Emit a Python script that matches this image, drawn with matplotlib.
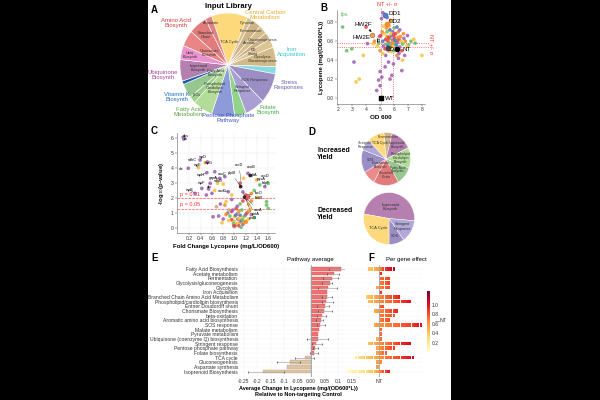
import matplotlib
matplotlib.use('Agg')
import matplotlib.pyplot as plt
import numpy as np
from matplotlib.patches import Rectangle
import matplotlib.colors as mcolors

plt.rcParams['font.family'] = ['Liberation Sans', 'DejaVu Sans']

# ---------------- data ----------------
# Panel A: input library (Voronoi-like pie), clockwise from top
lib_labels = ['TCA Cycle', 'Pyruvate', 'Fermentation', 'Acetate', 'Gluconeogenesis', 'ED\nShunt',
              'Glycolysis\nGluconeogenesis', '', 'SOS Response', 'Stringent\nResponse', '', '',
              'Phospholipid\nCardiolipin\nBiosynth', 'β-Ox', 'Fatty Acid\nBiosynth', '',
              'Isoprenoid\nBiosynth', 'Ubiq\nBiosynth', 'Chorismate\nBiosynth', 'Branched\nChain', 'Aspartate']
lib_sizes = [44, 6, 12, 10, 8, 10, 22, 8, 34, 24, 14, 28, 24, 8, 16, 4, 24, 16, 18, 22, 8]
lib_colors = ['#fdd97c', '#d9c08e', '#cfb488', '#d6bd8c', '#cbb184', '#dcc493', '#d4ba88', '#86dbe3',
              '#9a8ec4', '#a99fd2', '#93d48c', '#8d9cd8', '#b2dc98', '#9fcf8c', '#97c68e', '#1d5cae',
              '#b57fb0', '#ec93cf', '#ea8585', '#e27c7c', '#e48282']
group_names = ['Amino Acid\nBiosynth', 'Central Carbon\nMetabolism', 'Iron\nAcquisition', 'Stress\nResponses',
               'Folate\nBiosynth', 'Pentose Phosphate\nPathway', 'Fatty Acid\nMetabolism', 'Vitamin K\nBiosynth',
               'Ubiquinone\nBiosynth']
group_colors = ['#d43a3a', '#e6ad2e', '#35c3d3', '#6f5fb3', '#43ad43', '#4456c2', '#5aa247', '#1f6cc4', '#a3479a']

# Panel B: OD600 vs lycopene
b_od = [2.33, 2.62, 2.98, 3.14, 3.29, 3.52, 3.81, 4.10, 4.52, 4.00, 4.76, 5.00, 4.90, 5.12, 5.71, 5.84,
        5.00, 5.36, 5.60, 6.55, 5.95, 6.31, 7.98, 7.50, 7.02, 6.67, 4.95, 4.80, 4.60, 5.10, 5.20,
        5.40, 5.50, 5.60, 5.70, 5.80, 5.90, 6.00, 6.10, 6.20, 5.45, 5.55, 5.65, 5.75, 5.85, 5.95, 6.05,
        6.15, 6.25, 6.35, 6.45, 5.30, 5.50, 5.70, 5.90, 6.10, 6.30, 6.50, 6.60, 5.20, 5.25, 5.35, 5.60,
        5.80, 6.00, 6.20, 6.40, 6.55, 5.45, 5.65, 6.00, 6.20, 6.40, 5.05, 5.15, 5.25, 6.70, 6.80, 6.90,
        6.75, 6.60, 5.40, 5.20, 5.00, 4.90, 5.75, 5.50, 6.20, 6.35, 7.20, 6.95, 7.40, 5.62, 5.88, 6.08,
        5.52, 5.78, 6.28, 5.98, 5.68]
b_lyc = [0.75, 0.50, 0.52, 0.38, 0.17, 0.20, 0.45, 0.575, 0.575, 0.75, 0.08, 0.13, 0.19, 0.22, 0.20, 0.24,
         0.28, 0.33, 0.38, 0.29, 0.36, 0.42, 0.45, 0.58, 0.56, 0.68, 0.65, 0.55, 0.60, 0.84, 0.90,
         0.62, 0.65, 0.60, 0.63, 0.66, 0.61, 0.64, 0.60, 0.62, 0.57, 0.55, 0.58, 0.54, 0.57, 0.55, 0.58,
         0.56, 0.59, 0.62, 0.65, 0.68, 0.70, 0.72, 0.70, 0.68, 0.70, 0.60, 0.57, 0.60, 0.55, 0.52, 0.50,
         0.49, 0.50, 0.52, 0.54, 0.50, 0.74, 0.76, 0.74, 0.75, 0.72, 0.66, 0.70, 0.76, 0.63, 0.60, 0.55,
         0.45, 0.40, 0.45, 0.47, 0.50, 0.58, 0.82, 0.85, 0.45, 0.47, 0.60, 0.66, 0.62, 0.64, 0.59, 0.61,
         0.61, 0.68, 0.64, 0.67, 0.57]
b_cat = [3, 3, 3, 5, 2, 2, 2, 5, 2, 0, 5, 5, 5, 5, 5, 5,
         5, 5, 5, 5, 5, 5, 2, 3, 3, 1, 5, 2, 1, 5, 5,
         0, 1, 2, 3, 4, 5, 0, 1, 2, 3, 4, 5, 0, 1, 2, 3,
         4, 5, 0, 1, 2, 3, 4, 5, 0, 1, 2, 3, 4, 5, 0, 1,
         2, 3, 4, 5, 0, 1, 2, 3, 4, 5, 0, 1, 2, 5, 1, 2,
         5, 2, 5, 2, 1, 3, 1, 5, 1, 5, 3, 5, 2, 0, 1, 4,
         0, 2, 1, 0, 3]
nt_od = [5.07, 5.90]
nt_lyc = [0.54, 0.58]

# Panel C: volcano
c_fc = [0.09, 0.10, 0.39, 0.48, 0.52, 0.18, 0.36, 0.51, 0.65, 0.57, 0.30, 0.42, 0.54, 0.70, 0.74, 0.80,
        0.83, 0.89, 0.60, 0.65, 0.50, 0.95, 1.10, 1.11, 1.16, 1.24, 1.28, 1.39, 1.45, 1.54, 1.60, 1.57,
        1.60, 1.57, 1.20, 1.25, 1.30, 1.18, 1.35, 1.40, 1.22, 1.15, 1.30,
        1.00, 1.02, 1.05, 1.08, 1.10, 1.12, 1.06, 1.00, 0.98, 0.95, 1.15, 1.18, 1.20, 1.22, 1.25, 1.10,
        1.05, 1.00, 0.92, 0.88, 0.85, 0.90, 0.95, 1.13, 1.28, 1.30, 1.35, 1.15, 1.20, 1.25, 0.80, 0.83,
        0.68, 0.90, 0.72, 0.78, 1.03, 1.08, 0.97, 0.75, 0.85, 0.95, 1.10, 1.15, 1.25, 1.05, 1.12, 1.17,
        1.08, 1.02, 0.99, 1.14, 1.21, 1.07, 0.62]
c_p = [6.05, 5.93, 4.53, 4.36, 4.40, 3.98, 4.02, 3.69, 3.75, 2.98, 2.31, 2.64, 2.60, 2.98, 3.31, 2.93,
       3.42, 2.42, 2.31, 2.50, 2.20, 2.20, 2.98, 2.76, 3.31, 3.64, 3.50, 3.20, 2.87, 2.76, 2.98, 1.53,
       1.31, 1.75, 2.20, 2.10, 2.30, 2.05, 2.50, 2.05, 1.95, 2.40, 1.80,
       0.10, 0.20, 0.30, 0.15, 0.40, 0.50, 0.60, 0.45, 0.30, 0.55, 0.70, 0.80, 0.90, 1.00, 1.10, 0.85,
       0.95, 0.75, 0.80, 1.00, 0.90, 0.50, 1.10, 1.20, 1.25, 0.90, 0.70, 0.25, 0.45, 0.60, 0.60, 1.53,
       1.42, 1.20, 0.80, 0.35, 1.30, 1.15, 1.20, 1.60, 1.75, 1.90, 1.60, 1.80, 1.55, 1.45, 0.05, 0.35,
       0.65, 0.85, 0.15, 0.55, 0.40, 1.00, 0.75]
c_cat = [5, 5, 5, 2, 5, 5, 2, 5, 5, 5, 5, 5, 5, 2, 5, 2,
         5, 5, 5, 2, 5, 2, 0, 7, 2, 5, 7, 2, 3, 5, 3, 3,
         3, 3, 0, 0, 1, 7, 3, 2, 0, 5, 1,
         3, 5, 2, 0, 1, 4, 5, 2, 3, 0, 2, 3, 5, 0, 1, 4,
         5, 2, 3, 5, 1, 2, 0, 3, 2, 5, 3, 5, 1, 2, 5, 1,
         6, 6, 5, 2, 0, 1, 5, 5, 2, 5, 3, 0, 2, 5, 3, 1,
         2, 4, 0, 3, 1, 6, 5]

# Panel D: hits by pathway
inc_labels = ['Fermentation', 'Isoprenoid\nBiosynth', 'Phospholipid\nCardiolipin\nBiosynth', 'Fatty Acid\nBiosynth',
              'Branched\nChain', 'Chorismate\nBiosynth', 'SOS', 'Stringent\nResponse', 'TCA Cycle']
inc_counts = [4, 10, 9, 8, 12, 6, 10, 5, 8]
inc_colors = ['#cfb488', '#b57fb0', '#b2dc98', '#97c68e', '#e27c7c', '#ea8a8a', '#9a8ec4', '#b1a8d8', '#fdd97c']
dec_labels = ['Isoprenoid\nBiosynth', 'Stringent\nResponse', 'SOS', 'TCA Cycle']
dec_counts = [35, 10, 7, 20]
dec_colors = ['#b57fb0', '#b1a8d8', '#9a8ec4', '#fdd97c']

# Panel E: pathway averages
pathways = ['Fatty Acid Biosynthesis', 'Acetate metabolism', 'Fermentation', 'Glycolysis/gluconeogenesis',
            'Glycolysis', 'Iron Acquisition', 'Branched Chain Amino Acid Metabolism',
            'Phospholipid/cardiolipin biosynthesis', 'Entner Doudoroff shunt', 'Chorismate Biosynthesis',
            'beta-oxidation', 'Aromatic amino acid biosynthesis', 'SOS response', 'Malate metabolism',
            'Pyruvate metabolism', 'Ubiquinone (coenzyme Q) biosynthesis', 'Stringent response',
            'Pentose phosphate pathway', 'Folate biosynthesis', 'TCA cycle', 'Gluconeogenesis',
            'Aspartate synthesis', 'Isoprenoid Biosynthesis']
avg_change = [0.109, 0.085, 0.079, 0.070, 0.063, 0.060, 0.057, 0.055, 0.052, 0.048, 0.041, 0.037, 0.033,
              0.028, 0.026, 0.024, 0.018, 0.016, 0.012, -0.023, -0.078, -0.090, -0.178]
nan = np.nan
err_lo = [0.067, 0.057, 0.045, 0.039, 0.026, nan, 0.042, 0.040, 0.020, 0.026, 0.020, 0.018, 0.020,
          nan, nan, -0.016, 0.002, 0.005, -0.005, -0.060, -0.125, nan, -0.235]
err_hi = [0.168, 0.104, 0.100, 0.079, 0.094, nan, 0.079, 0.080, 0.067, 0.079, 0.054, 0.045, 0.050,
          nan, nan, 0.063, 0.040, 0.026, 0.026, 0.010, -0.040, nan, -0.100]
e_ticks = [-0.25, -0.2, -0.15, -0.1, -0.05, 0.0, 0.05, 0.1, 0.15]
e_ticklabels = ['-0.25', '-0.2', '-0.15', '-0.1', '-0.05', '0.00', '0.05', '0.1', '0.15']

# Panel F: per-gene effect (sorted per pathway)
gene_effects = [
    [0.42, 0.46, 0.50, 0.56, 0.70, 0.82, 0.90, 0.98, 1.05, 1.12],
    [0.92],
    [0.72, 0.76, 0.80, 0.85],
    [0.70, 0.74, 0.78, 0.84],
    [0.55, 0.68, 0.72, 0.76, 0.80],
    [0.88],
    [0.38, 0.44, 0.48, 0.52, 0.56, 0.68, 0.70, 0.74, 0.78, 0.82, 0.86, 0.90, 0.95],
    [0.45, 0.50, 0.54, 0.58, 0.66, 0.68, 0.70, 0.72, 0.75, 0.78, 0.80, 0.84, 0.88, 0.92, 0.96, 1.02],
    [0.78, 0.82],
    [0.50, 0.56, 0.68, 0.70, 0.74, 0.78, 0.82, 0.86, 0.92],
    [0.70, 0.72, 0.74, 0.76, 0.78, 0.80],
    [0.70, 0.74, 0.78, 0.80],
    [0.52, 0.58, 0.64, 0.66, 0.67, 0.68, 0.70, 0.72, 0.74, 0.76, 0.78, 0.80, 0.82, 0.85, 0.88, 0.92, 0.96, 1.00],
    [0.76],
    [0.75],
    [0.50, 0.72],
    [0.42, 0.48, 0.52, 0.58, 0.66, 0.68, 0.70, 0.74, 0.78, 0.80, 0.84, 0.88, 0.92, 0.96, 1.00, 1.05],
    [0.55, 0.66, 0.70, 0.74, 0.78, 0.82, 0.86],
    [0.56, 0.68, 0.72, 0.78],
    [0.20, 0.26, 0.32, 0.36, 0.40, 0.44, 0.48, 0.52, 0.58, 0.65, 0.67, 0.70, 0.72, 0.75, 0.78, 0.80, 0.84,
     0.88, 0.92, 0.96, 1.02, 1.08],
    [0.56, 0.66],
    [0.58],
    [0.05, 0.08, 0.12, 0.15, 0.18, 0.22, 0.26, 0.30, 0.36, 0.42, 0.48, 0.55, 0.70, 0.78, 0.86, 0.94],
]
nt_effect = 0.62
nt_marker = 0.67
cbar_ticks = [0.2, 0.4, 0.6, 0.8, 1.0]

# ---------------- layout helpers ----------------
W, H = 600, 400
fig = plt.figure(figsize=(6, 4), dpi=100, facecolor='black')


def rect(x0, y0, x1, y1):
    return [x0 / W, 1 - y1 / H, (x1 - x0) / W, (y1 - y0) / H]


def T(x, y, s, **kw):
    return fig.text(x / W, 1 - y / H, s, **kw)


def place_labels(wedges, texts, radii):
    for w, t, r in zip(wedges, texts, radii):
        th = np.deg2rad((w.theta1 + w.theta2) / 2)
        t.set_position((r * np.cos(th), r * np.sin(th)))


fig.add_artist(Rectangle((148 / W, 0), 303 / W, 1, transform=fig.transFigure,
                         facecolor='white', edgecolor='none', zorder=-10))

pal = ['#e8474c', '#f28e2b', '#f4c542', '#6cc06a', '#4b7bc4', '#a065b8', '#c9a97c', '#111111']
TICK = 3.6


def style_axes(ax):
    for s in ['top', 'right']:
        ax.spines[s].set_visible(False)
    for s in ['left', 'bottom']:
        ax.spines[s].set_linewidth(0.4)
        ax.spines[s].set_color('#666666')
    ax.tick_params(labelsize=TICK, length=1.5, width=0.3, pad=1, colors='#333333')


# ---------------- Panel A ----------------
T(151, 10, 'A', fontsize=7, fontweight='bold', va='center')
T(228, 6, 'Input Library', fontsize=5.5, fontweight='bold', ha='center', va='center')
axA = fig.add_axes(rect(179, 12, 277, 118))
wA, tA = axA.pie(lib_sizes, labels=lib_labels, colors=lib_colors, startangle=110, counterclock=False,
                 radius=1, wedgeprops=dict(edgecolor='white', linewidth=0.4),
                 textprops=dict(fontsize=2.8, color='#333333', ha='center', va='center', linespacing=0.95))
place_labels(wA, tA, [0.45, 0.9, 0.8, 0.62, 0.86, 0.58, 0.72, 0.6, 0.62, 0.55, 0.6, 0.6,
                      0.52, 0.86, 0.3, 0.6, 0.62, 0.82, 0.45, 0.75, 0.88])
axA.set_aspect('auto')
axA.set_xlim(-1.02, 1.02)
axA.set_ylim(-1.02, 1.02)
group_pos = [(176, 23), (265, 15), (292, 52), (289, 85), (268, 110), (228, 118), (189, 112), (177, 97), (163, 75)]
for name, col, (gx, gy) in zip(group_names, group_colors, group_pos):
    T(gx, gy, name, fontsize=4.3, color=col, ha='center', va='center', linespacing=1.0)

# ---------------- Panel B ----------------
T(320, 8, 'B', fontsize=7, fontweight='bold', va='center')
axB = fig.add_axes(rect(337, 10, 425, 104))
style_axes(axB)
axB.set_xlim(1.93, 8.2)
axB.set_ylim(-0.063, 0.93)
axB.set_xticks([2, 3, 4, 5, 6, 7, 8])
axB.set_yticks([0.0, 0.2, 0.4, 0.6, 0.8])
axB.set_yticklabels(['0.0', '0.2', '0.4', '0.6', '0.8'])
axB.scatter(b_od, b_lyc, c=[pal[i] for i in b_cat], s=7, linewidths=0, alpha=0.9, zorder=3)
for v in nt_od:
    axB.plot([v, v], [-0.063, 0.96], ls=':', color='#ff4444', lw=0.6, clip_on=False, zorder=2)
for v in nt_lyc:
    axB.plot([1.93, 8.45], [v, v], ls=':', color='#ff4444', lw=0.6, clip_on=False, zorder=2)
axB.text(5.48, 0.99, 'NT +/- σ', color='#ff3333', fontsize=4, ha='center', va='center')
axB.text(8.62, 0.57, 'NT +/- σ', color='#ff3333', fontsize=4, ha='center', va='center', rotation=270)
axB.scatter([5.38], [0.88], s=10, color='#4b7bc4', zorder=4)
axB.scatter([5.5], [0.78], s=10, color='#f28e2b', zorder=4)
axB.scatter([4.42], [0.67], s=11, facecolor='#f6a060', edgecolor='#a05a20', linewidths=0.4, zorder=4)
axB.scatter([5.07], [0.0], s=10, color='black', marker='s', zorder=4)
axB.scatter([6.2], [0.52], s=9, color='black', zorder=4)
axB.scatter([5.55], [0.53], s=9, color='#444444', zorder=4)
axB.text(5.58, 0.89, 'DD1', fontsize=4.5, va='center')
axB.text(5.62, 0.81, 'DD2', fontsize=4.5, va='center')
axB.text(5.4, 0.51, 'DD3', fontsize=4.5, va='center')
axB.text(5.36, -0.005, 'WT', fontsize=4.5, va='center')
axB.annotate('NT', xy=(6.22, 0.52), xytext=(6.62, 0.51), fontsize=4.5, va='center',
             arrowprops=dict(arrowstyle='-', lw=0.4, color='black'))
axB.annotate('HW2F', xy=(4.38, 0.70), xytext=(3.8, 0.78), fontsize=4.5, va='center', ha='center',
             arrowprops=dict(arrowstyle='-|>', lw=0.5, color='black', mutation_scale=3))
axB.text(3.7, 0.64, 'HW2E', fontsize=4.5, va='center', ha='center')
axB.text(4.93, 0.61, 'lp', fontsize=4, va='center', ha='center')
axB.text(2.45, 0.885, 'fps', fontsize=4, color='#5cb85c', va='center', ha='center')
axB.set_xlabel('OD 600', fontsize=4.5, fontweight='bold', labelpad=1.5)
axB.set_ylabel('Lycopene (mg/(OD600*L))', fontsize=4.3, fontweight='bold', labelpad=2)

# ---------------- Panel C ----------------
T(151, 131, 'C', fontsize=7, fontweight='bold', va='center')
axC = fig.add_axes(rect(177, 133, 275, 233))
style_axes(axC)
axC.set_xlim(-0.02, 1.72)
axC.set_ylim(-0.33, 6.33)
axC.set_xticks([0.2, 0.4, 0.6, 0.8, 1.0, 1.2, 1.4, 1.6])
axC.set_yticks([0, 1, 2, 3, 4, 5, 6])
axC.grid(True, color='#e6e6e6', lw=0.3)
axC.set_axisbelow(True)
axC.axhline(2.0, color='#ff5555', ls='--', lw=0.5, zorder=1)
axC.axhline(1.3, color='#ff5555', ls='--', lw=0.5, zorder=1)
axC.text(0.04, 2.1, 'p = 0.01', color='#ff3333', fontsize=4, va='bottom')
axC.text(0.04, 1.4, 'p = 0.05', color='#ff3333', fontsize=4, va='bottom')
axC.scatter(c_fc, c_p, c=[pal[i] for i in c_cat], s=7, linewidths=0, alpha=0.9, zorder=3)
c_lab = [('dxs', 0.09, 6.05, 0.13, 6.15), ('idi', 0.10, 5.93, 0.14, 5.9), ('sdhC', 0.36, 4.02, 0.25, 4.5),
         ('ispD', 0.39, 4.53, 0.43, 4.75), ('ispG', 0.52, 4.40, 0.55, 4.3), ('cls', 0.18, 3.98, 0.06, 3.9),
         ('ispE', 0.48, 4.36, 0.34, 4.2), ('ispH', 0.51, 3.69, 0.4, 3.5), ('ispF', 0.57, 2.98, 0.42, 3.0),
         ('ispB', 0.30, 2.31, 0.2, 2.55), ('dxr', 0.54, 2.60, 0.55, 2.75), ('sdhB', 0.70, 2.98, 0.72, 3.15),
         ('sucC', 0.83, 3.42, 0.78, 3.6), ('gapA', 0.74, 3.31, 0.62, 3.35), ('sucD', 0.89, 2.42, 0.78, 2.5),
         ('aroD', 1.12, 3.0, 1.08, 4.2), ('acnB', 1.24, 3.64, 1.3, 4.05), ('pfpB', 1.11, 2.76, 0.95, 3.65),
         ('gltA', 1.39, 3.2, 1.35, 3.55), ('pgsA', 1.45, 2.87, 1.48, 3.25), ('fabF', 1.54, 2.76, 1.56, 3.0),
         ('accD', 1.6, 2.98, 1.55, 3.45), ('lacO', 1.2, 2.2, 1.43, 2.35), ('fadR', 1.25, 2.1, 1.43, 2.0),
         ('sucA', 1.22, 1.95, 1.42, 1.2), ('pntA', 1.18, 2.05, 1.38, 0.95), ('ptsG', 1.15, 2.4, 1.33, 0.7)]
for name, px, py, tx, ty in c_lab:
    axC.annotate(name, xy=(px, py), xytext=(tx, ty), fontsize=2.8, ha='center', va='center',
                 arrowprops=dict(arrowstyle='-', lw=0.25, color='#222222', shrinkA=0.5, shrinkB=0.5))
axC.set_xlabel('Fold Change Lycopene (mg/L/OD600)', fontsize=4.3, fontweight='bold', labelpad=2)
axC.set_ylabel('-log$_{10}$(p-value)', fontsize=4.3, fontweight='bold', labelpad=3)

# ---------------- Panel D ----------------
T(308, 132, 'D', fontsize=7, fontweight='bold', va='center')
T(317, 154, 'Increased\nYield', fontsize=5, fontweight='bold', va='center', linespacing=1.1)
T(317, 214, 'Decreased\nYield', fontsize=5, fontweight='bold', va='center', linespacing=1.1)
axD1 = fig.add_axes(rect(361, 132, 411, 186))
wD1, tD1 = axD1.pie(inc_counts, labels=inc_labels, colors=inc_colors, startangle=95, counterclock=False,
                    wedgeprops=dict(edgecolor='white', linewidth=0.3),
                    textprops=dict(fontsize=2.5, color='#333333', ha='center', va='center', linespacing=0.95))
place_labels(wD1, tD1, [0.85, 0.7, 0.6, 0.62, 0.6, 0.32, 0.62, 1.0, 0.5])
tD1[8].set_position((-0.22, 0.6))
axD1.set_aspect('auto'); axD1.set_xlim(-1.02, 1.02); axD1.set_ylim(-1.02, 1.02)
axD2 = fig.add_axes(rect(363, 192, 415, 245))
wD2, tD2 = axD2.pie(dec_counts, labels=dec_labels, colors=dec_colors, startangle=170, counterclock=False,
                    wedgeprops=dict(edgecolor='white', linewidth=0.3),
                    textprops=dict(fontsize=2.8, color='#333333', ha='center', va='center'))
place_labels(wD2, tD2, [0.45, 0.6, 0.72, 0.55])
axD2.set_aspect('auto'); axD2.set_xlim(-1.02, 1.02); axD2.set_ylim(-1.02, 1.02)

# ---------------- Panel E ----------------
T(151, 258, 'E', fontsize=7, fontweight='bold', va='center')
T(310, 259, 'Pathway average', fontsize=4.3, ha='center', va='center')
axE = fig.add_axes(rect(240, 265, 357, 377))
ypos = np.arange(len(pathways))
axE.set_xlim(-0.264, 0.17)
axE.set_ylim(23.18, -0.86)
axE.grid(True, color='#dddddd', lw=0.3, ls=':')
axE.set_axisbelow(True)
bar_cols = ['#ef7272' if v >= 0 else '#dcc3a1' for v in avg_change]
edge_cols = ['#cc5555' if v >= 0 else '#b8997a' for v in avg_change]
axE.barh(ypos, avg_change, height=0.78, color=bar_cols, edgecolor=edge_cols, linewidth=0.25, zorder=2)
for y_, lo, hi in zip(ypos, err_lo, err_hi):
    if np.isnan(lo):
        continue
    axE.plot([lo, hi], [y_, y_], color='#aaaaaa', lw=0.5, zorder=3)
    axE.plot([lo, hi], [y_, y_], ls='none', marker='|', ms=1.6, mew=0.4, color='#222222', zorder=3)
axE.axvline(0, color='#8fa3b3', lw=0.6, zorder=4)
axE.set_yticks(ypos)
axE.set_yticklabels(pathways)
axE.set_xticks(e_ticks)
axE.set_xticklabels(e_ticklabels)
for s in axE.spines.values():
    s.set_visible(False)
axE.tick_params(axis='y', labelsize=3.6, length=0, pad=1.5, colors='#333333')
axE.tick_params(axis='x', labelsize=3.6, length=0, pad=1.5, colors='#333333')
axE.set_xlabel('Average Change in Lycopene (mg/(OD600*L))\nRelative to Non-targeting Control',
               fontsize=4, fontweight='bold', labelpad=1.5, linespacing=1.3)

# ---------------- Panel F ----------------
T(368, 258, 'F', fontsize=7, fontweight='bold', va='center')
T(386, 259, 'Per gene effect', fontsize=4.3, ha='left', va='center')
axF = fig.add_axes(rect(345, 265, 423, 377))
axF.set_xlim(-12.6, 16.3)
axF.set_ylim(23.18, -0.86)
cmap = plt.get_cmap('YlOrRd')
norm = mcolors.Normalize(vmin=0.0, vmax=1.3)
for yi, vals in enumerate(gene_effects):
    left = [v for v in vals if v < nt_effect]
    right = [v for v in vals if v >= nt_effect]
    for k, v in enumerate(left):
        xx = -len(left) + k
        axF.add_patch(Rectangle((xx + 0.06, yi - 0.38), 0.88, 0.76, facecolor=cmap(norm(v)),
                                edgecolor='none', zorder=2))
    for k, v in enumerate(right):
        axF.add_patch(Rectangle((k + 0.06, yi - 0.38), 0.88, 0.76, facecolor=cmap(norm(v)),
                                edgecolor='none', zorder=2))
    axF.axhline(yi, color='#e4e4e4', lw=0.3, ls=':', zorder=1)
axF.axvline(0, color='#9aaab8', lw=0.6, zorder=3)
axF.set_xticks([0])
axF.set_xticklabels(['NT'])
axF.set_yticks([])
for s in axF.spines.values():
    s.set_visible(False)
axF.tick_params(axis='x', labelsize=3.8, length=0, pad=1.5, colors='#333333')

# colorbar
axCB = fig.add_axes(rect(427, 291, 430, 352))
grad = np.linspace(0, 1.3, 200).reshape(-1, 1)
axCB.imshow(grad, aspect='auto', cmap=cmap, norm=norm, origin='lower', extent=[0, 1, 0, 1.3])
axCB.plot([2.7, 4.0], [nt_marker, nt_marker], color='#555555', lw=0.4, clip_on=False)
axCB.text(4.2, nt_marker, 'NT', fontsize=3.8, va='center', ha='left', color='#333333')
axCB.set_xlim(0, 1)
axCB.set_ylim(0, 1.3)
axCB.set_xticks([])
axCB.yaxis.tick_right()
axCB.set_yticks(cbar_ticks)
axCB.set_yticklabels(['0.2', '0.4', '0.6', '0.8', '1.0'])
axCB.tick_params(axis='y', labelsize=3.6, length=0, pad=1.5, colors='#333333')
for s in axCB.spines.values():
    s.set_visible(False)

fig.savefig('out.png', dpi=100, facecolor='black')
